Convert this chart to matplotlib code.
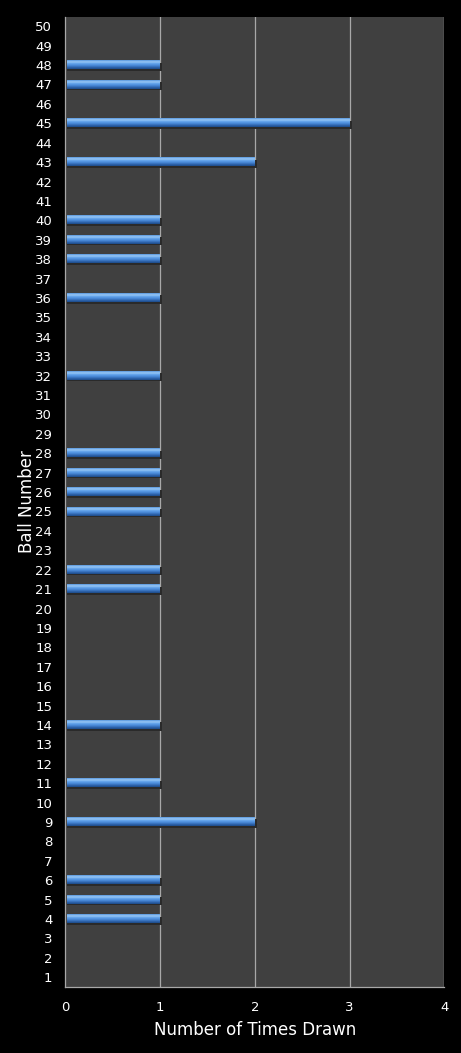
import numpy as np
import matplotlib
matplotlib.use("Agg")
import matplotlib.pyplot as plt
from matplotlib.colors import LinearSegmentedColormap

# ball number -> times drawn (only balls drawn at least once)
BALLS = [4, 5, 6, 9, 11, 14, 21, 22, 25, 26, 27, 28, 32, 36, 38, 39, 40, 43, 45, 47, 48]
TIMES = [1, 1, 1, 2, 1, 1, 1, 1, 1, 1, 1, 1, 1, 1, 1, 1, 1, 2, 3, 1, 1]
ALL_BALLS = list(range(1, 51))
X_TICKS = [0, 1, 2, 3, 4]

BG = "#000000"
PLOT_BG = "#404040"
GRID = "#a8a8a8"
TXT = "#ffffff"

# vertical gradient for the bar body, bottom -> top
bar_cmap = LinearSegmentedColormap.from_list(
    "bar", ["#1d4a86", "#2f66b0", "#4a8ad8", "#5fa0ea", "#9ccaf6", "#5594dc"])


def main():
    fig = plt.figure(figsize=(4.61, 10.53), dpi=100, facecolor=BG)
    ax = fig.add_axes([0.142, 0.0627, 0.822, 0.9216])
    ax.set_facecolor(PLOT_BG)

    for x in X_TICKS[1:]:
        ax.axvline(x, color=GRID, lw=0.9, zorder=1)

    h = 0.42
    grad = np.linspace(0, 1, 64).reshape(-1, 1)
    for b, v in zip(BALLS, TIMES):
        # soft shadow under bar
        ax.barh(b - 0.08, v, height=h, left=0.02, color="#2a2a2a",
                edgecolor="none", zorder=2)
        ax.imshow(grad, extent=[0.02, v, b - h / 2, b + h / 2], origin="lower",
                  aspect="auto", cmap=bar_cmap, zorder=3, interpolation="bilinear")

    ax.set_xlim(0, 4)
    ax.set_ylim(0.5, 50.5)

    ax.set_yticks(ALL_BALLS)
    ax.set_yticklabels([str(n) for n in ALL_BALLS])
    ax.set_xticks(X_TICKS)
    ax.tick_params(axis="y", length=0, pad=9.5, labelsize=9.5, labelcolor=TXT)
    ax.tick_params(axis="x", length=0, pad=10, labelsize=9.5, labelcolor=TXT)

    for side in ("top", "right"):
        ax.spines[side].set_visible(False)
    for side in ("left", "bottom"):
        ax.spines[side].set_color(GRID)
        ax.spines[side].set_linewidth(0.9)

    ax.set_xlabel("Number of Times Drawn", color=TXT, fontsize=12, labelpad=5)
    ax.set_ylabel("Ball Number", color=TXT, fontsize=12)
    ax.yaxis.set_label_coords(-0.079, 0.5)

    fig.savefig("out.png", facecolor=BG)
    plt.close(fig)


if __name__ == "__main__":
    main()
